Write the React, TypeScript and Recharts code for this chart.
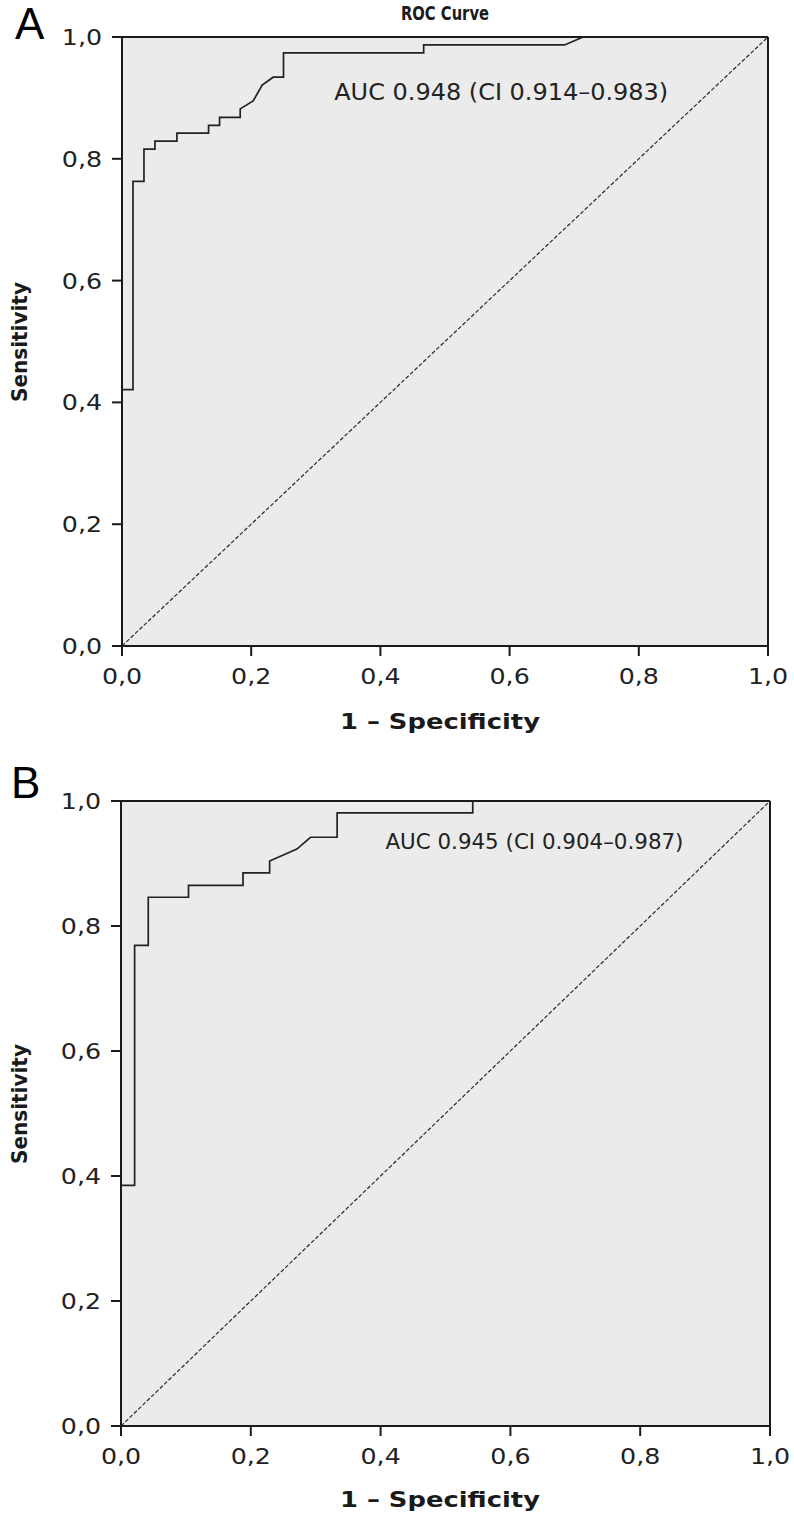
import React from "react";
import { LineChart, Line, XAxis, YAxis, CartesianGrid, ReferenceLine } from "recharts";

// ---- data ----
const axisTicks = [0, 0.2, 0.4, 0.6, 0.8, 1];
const axisTickLabels = ["0,0", "0,2", "0,4", "0,6", "0,8", "1,0"];

const fprA = [0, 0, 0.017, 0.017, 0.034, 0.034, 0.051, 0.051, 0.085, 0.085, 0.134, 0.134, 0.151, 0.151, 0.183, 0.183, 0.203, 0.217, 0.234, 0.25, 0.25, 0.467, 0.467, 0.685, 0.714, 1];
const tprA = [0, 0.421, 0.421, 0.763, 0.763, 0.816, 0.816, 0.829, 0.829, 0.842, 0.842, 0.855, 0.855, 0.868, 0.868, 0.882, 0.895, 0.921, 0.934, 0.934, 0.974, 0.974, 0.987, 0.987, 1, 1];

const fprB = [0, 0, 0.021, 0.021, 0.042, 0.042, 0.104, 0.104, 0.188, 0.188, 0.229, 0.229, 0.271, 0.292, 0.333, 0.333, 0.542, 0.542, 1];
const tprB = [0, 0.385, 0.385, 0.769, 0.769, 0.846, 0.846, 0.865, 0.865, 0.885, 0.885, 0.904, 0.923, 0.942, 0.942, 0.981, 0.981, 1, 1];

const diagX = [0, 1];
const diagY = [0, 1];

const panelLabels = ["A", "B"];
const aucTexts = ["AUC 0.948 (CI 0.914–0.983)", "AUC 0.945 (CI 0.904–0.987)"];
const aucPos = [{ x: 0.328, y: 0.91 }, { x: 0.407, y: 0.936 }];
const title = "ROC Curve";
const xTitle = "1 – Specificity";
const yTitle = "Sensitivity";

const curveA = fprA.map((x, i) => ({ x, y: tprA[i] }));
const curveB = fprB.map((x, i) => ({ x, y: tprB[i] }));
const diag = diagX.map((x, i) => ({ x, y: diagY[i] }));

const TICK_FONT = "'DejaVu Sans', Verdana, sans-serif";
const INK = "#1a1a1a";

const labelFor = (v: number) => {
  const i = axisTicks.findIndex((t) => Math.abs(t - v) < 1e-6);
  return i >= 0 ? axisTickLabels[i] : String(v);
};

const XTick = (props: any) => {
  const { x, y, payload } = props;
  return (
    <g transform={`translate(${x},${y})`}>
      <text textAnchor="middle" dy="0.73em" transform="scale(1.15,1)" fontFamily={TICK_FONT} fontSize={22} fill="#222">
        {labelFor(payload.value)}
      </text>
    </g>
  );
};

const YTick = (props: any) => {
  const { x, y, payload } = props;
  return (
    <g transform={`translate(${x},${y})`}>
      <text textAnchor="end" dy="0.36em" transform="scale(1.15,1)" fontFamily={TICK_FONT} fontSize={22} fill="#222">
        {labelFor(payload.value)}
      </text>
    </g>
  );
};

const AucLabel = (props: any) => {
  const { viewBox, value, len, size } = props;
  if (!viewBox) return null;
  const cx = viewBox.x + (viewBox.width || 0) / 2;
  const cy = viewBox.y + (viewBox.height || 0) / 2;
  return (
    <text x={cx} y={cy} dy="0.36em" textAnchor="start" fontFamily={TICK_FONT} fontSize={size} textLength={len} lengthAdjust="spacingAndGlyphs" fill="#222">
      {value}
    </text>
  );
};

type PanelProps = {
  data: { x: number; y: number }[];
  height: number;
  margin: { top: number; right: number; left: number; bottom: number };
  yAxisWidth: number;
  xAxisHeight: number;
  auc: string;
  aucAt: { x: number; y: number };
  aucLen: number;
  aucSize: number;
};

const RocPanel = ({ data, height, margin, yAxisWidth, xAxisHeight, auc, aucAt, aucLen, aucSize }: PanelProps) => (
  <LineChart width={794} height={height} margin={margin}>
    <CartesianGrid horizontal={false} vertical={false} fill="#ebebeb" stroke="none" />
    <XAxis
      type="number"
      dataKey="x"
      domain={[0, 1]}
      ticks={axisTicks}
      allowDataOverflow
      height={xAxisHeight}
      tickSize={10}
      tickMargin={12}
      axisLine={{ stroke: INK, strokeWidth: 2 }}
      tickLine={{ stroke: INK, strokeWidth: 2 }}
      tick={<XTick />}
      interval={0}
    />
    <YAxis
      type="number"
      dataKey="y"
      domain={[0, 1]}
      ticks={axisTicks}
      allowDataOverflow
      width={yAxisWidth}
      tickSize={10}
      tickMargin={10}
      axisLine={{ stroke: INK, strokeWidth: 2 }}
      tickLine={{ stroke: INK, strokeWidth: 2 }}
      tick={<YTick />}
      interval={0}
    />
    <ReferenceLine y={1} stroke={INK} strokeWidth={2} ifOverflow="visible" />
    <ReferenceLine x={1} stroke={INK} strokeWidth={2} ifOverflow="visible" />
    <Line data={diag} dataKey="y" type="linear" stroke="#2a2a2a" strokeWidth={1.2} strokeDasharray="4 2" dot={false} activeDot={false} isAnimationActive={false} />
    <Line data={data} dataKey="y" type="linear" stroke="#222" strokeWidth={1.7} dot={false} activeDot={false} isAnimationActive={false} />
    <ReferenceLine
      segment={[{ x: aucAt.x, y: aucAt.y }, { x: aucAt.x + 0.001, y: aucAt.y }]}
      stroke="none"
      label={<AucLabel value={auc} len={aucLen} size={aucSize} />}
    />
  </LineChart>
);

export default function App() {
  const boldFont = "'DejaVu Sans', Verdana, sans-serif";
  return (
    <div style={{ position: "absolute", left: 0, top: 0, width: 794, height: 1522, background: "#fff" }}>
      <div style={{ position: "absolute", left: 0, top: 0 }}>
        <RocPanel
          data={curveA}
          height={761}
          margin={{ top: 37, right: 26, left: 0, bottom: 0 }}
          yAxisWidth={122}
          xAxisHeight={115}
          auc={aucTexts[0]}
          aucAt={aucPos[0]}
          aucLen={334}
          aucSize={23}
        />
      </div>
      <div style={{ position: "absolute", left: 0, top: 761 }}>
        <RocPanel
          data={curveB}
          height={761}
          margin={{ top: 40, right: 24, left: 0, bottom: 0 }}
          yAxisWidth={121}
          xAxisHeight={96}
          auc={aucTexts[1]}
          aucAt={aucPos[1]}
          aucLen={298}
          aucSize={22}
        />
      </div>
      <svg width={794} height={1522} style={{ position: "absolute", left: 0, top: 0, pointerEvents: "none" }}>
        <text x={15} y={39} fontFamily="'Liberation Sans', Arial, sans-serif" fontSize={44} fill="#000">{panelLabels[0]}</text>
        <text x={11} y={798} fontFamily="'Liberation Sans', Arial, sans-serif" fontSize={44} fill="#000">{panelLabels[1]}</text>
        <text x={445} y={20} textAnchor="middle" fontFamily={boldFont} fontWeight="bold" fontSize={20} textLength={88} lengthAdjust="spacingAndGlyphs" fill={INK}>{title}</text>
        <text x={440} y={729} textAnchor="middle" fontFamily={boldFont} fontWeight="bold" fontSize={21} textLength={200} lengthAdjust="spacingAndGlyphs" fill={INK}>{xTitle}</text>
        <text x={440} y={1507} textAnchor="middle" fontFamily={boldFont} fontWeight="bold" fontSize={21} textLength={200} lengthAdjust="spacingAndGlyphs" fill={INK}>{xTitle}</text>
        <text transform="translate(19,342) rotate(-90)" textAnchor="middle" dy="0.36em" fontFamily={boldFont} fontWeight="bold" fontSize={21} textLength={120} lengthAdjust="spacingAndGlyphs" fill={INK}>{yTitle}</text>
        <text transform="translate(19,1104) rotate(-90)" textAnchor="middle" dy="0.36em" fontFamily={boldFont} fontWeight="bold" fontSize={21} textLength={120} lengthAdjust="spacingAndGlyphs" fill={INK}>{yTitle}</text>
      </svg>
    </div>
  );
}
